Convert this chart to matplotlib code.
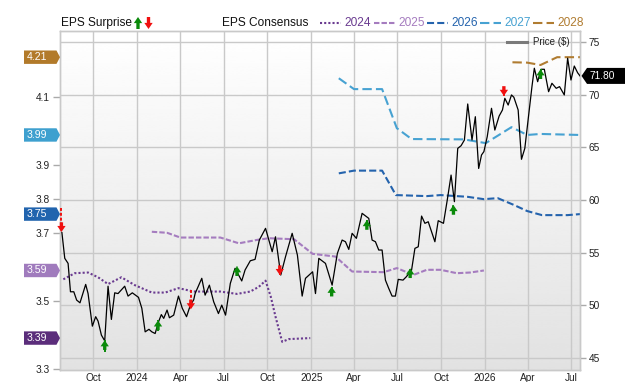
import numpy as np
import pandas as pd
import matplotlib
matplotlib.use("Agg")
import matplotlib.pyplot as plt
import matplotlib.dates as mdates
import matplotlib.transforms as mtransforms
from matplotlib.patches import Polygon
from matplotlib.lines import Line2D

plt.rcParams['font.family'] = ['Liberation Sans', 'DejaVu Sans']

# weekly-ish closing price ($)
price_dates = [
    "2023-07-27", "2023-08-02", "2023-08-09", "2023-08-14", "2023-08-21", "2023-08-27", "2023-09-03", "2023-09-15", "2023-09-20", "2023-09-29",
    "2023-10-06", "2023-10-11", "2023-10-18", "2023-10-25", "2023-11-01", "2023-11-08", "2023-11-15", "2023-11-22", "2023-12-06", "2023-12-13",
    "2023-12-22", "2024-01-04", "2024-01-11", "2024-01-18", "2024-01-26", "2024-02-01", "2024-02-08", "2024-02-15", "2024-02-21", "2024-02-26",
    "2024-03-04", "2024-03-09", "2024-03-18", "2024-03-28", "2024-04-05", "2024-04-14", "2024-04-22", "2024-04-29", "2024-05-02", "2024-05-16",
    "2024-05-23", "2024-06-01", "2024-06-10", "2024-06-20", "2024-06-27", "2024-07-05", "2024-07-15", "2024-07-25", "2024-08-08", "2024-08-15",
    "2024-08-26", "2024-09-05", "2024-09-14", "2024-09-27", "2024-10-04", "2024-10-11", "2024-10-18", "2024-10-29", "2024-11-08", "2024-11-22",
    "2024-12-03", "2024-12-13", "2024-12-20", "2025-01-04", "2025-01-10", "2025-01-17", "2025-01-31", "2025-02-14", "2025-02-25", "2025-03-07",
    "2025-03-14", "2025-03-21", "2025-03-28", "2025-04-06", "2025-04-18", "2025-05-02", "2025-05-09", "2025-05-16", "2025-05-23", "2025-05-30",
    "2025-06-06", "2025-06-13", "2025-06-20", "2025-06-27", "2025-07-03", "2025-07-13", "2025-07-20", "2025-07-31", "2025-08-07", "2025-08-14",
    "2025-08-21", "2025-08-28", "2025-09-04", "2025-09-18", "2025-09-25", "2025-10-06", "2025-10-14", "2025-10-22", "2025-10-29", "2025-11-05",
    "2025-11-12", "2025-11-19", "2025-11-26", "2025-12-05", "2025-12-12", "2025-12-19", "2025-12-25", "2025-12-30", "2026-01-06", "2026-01-15",
    "2026-01-22", "2026-01-31", "2026-02-07", "2026-02-12", "2026-02-19", "2026-02-26", "2026-03-03", "2026-03-12", "2026-03-19", "2026-03-26",
    "2026-04-03", "2026-04-10", "2026-04-15", "2026-04-22", "2026-04-29", "2026-05-06", "2026-05-15", "2026-05-22", "2026-05-31", "2026-06-07",
    "2026-06-17", "2026-06-24", "2026-07-01", "2026-07-08", "2026-07-15", "2026-07-20",
]
price_values = [
    56.9, 54.45, 53.97, 51.27, 51.27, 50.48, 50.22, 51.97, 51.1, 48.0,
    48.9, 48.48, 47.15, 46.6, 51.8, 48.64, 51.17, 51.1, 51.8, 50.86,
    51.17, 50.74, 49.7, 47.46, 47.7, 47.46, 47.3, 48.4, 49.1, 48.74,
    49.53, 48.8, 49.05, 50.86, 49.7, 48.9, 50.0, 50.5, 51.1, 52.55,
    50.95, 51.9, 50.32, 49.2, 50.0, 49.05, 52.07, 53.5, 52.3, 53.34,
    54.22, 54.35, 56.19, 57.3, 56.19, 55.08, 56.5, 52.86, 54.6, 56.83,
    54.76, 50.86, 52.55, 53.17, 51.1, 54.45, 53.97, 51.9, 54.92, 56.19,
    56.03, 55.3, 56.83, 56.35, 58.73, 58.25, 56.19, 56.03, 55.24, 55.24,
    52.38, 51.59, 50.86, 50.86, 52.45, 52.38, 52.7, 53.34, 55.4, 55.55,
    58.47, 57.78, 57.93, 56.03, 58.03, 57.78, 60.0, 62.37, 59.84, 64.91,
    65.16, 65.7, 69.13, 65.7, 67.92, 63.0, 64.28, 64.6, 66.02, 68.72,
    66.65, 67.98, 68.56, 69.67, 69.03, 69.99, 69.77, 68.56, 63.87, 64.91,
    68.08, 70.78, 72.53, 71.25, 72.43, 72.43, 70.3, 71.1, 70.62, 70.78,
    69.99, 73.48, 71.41, 72.74, 72.1, 71.8,
]
last_price = "71.80"

# EPS consensus per fiscal year
eps_2024_dates = ["2023-07-30", "2023-08-23", "2023-09-20", "2023-10-11", "2023-11-01", "2023-11-29", "2023-12-27", "2024-02-01",
                  "2024-02-29", "2024-03-28", "2024-04-29", "2024-06-24", "2024-07-29", "2024-08-26", "2024-09-13", "2024-09-27",
                  "2024-10-08", "2024-10-18", "2024-11-01", "2024-11-15", "2024-12-30"]
eps_2024_values = [3.563, 3.581, 3.583, 3.569, 3.549, 3.569, 3.546, 3.524,
                   3.524, 3.537, 3.527, 3.527, 3.52, 3.527, 3.541, 3.559,
                   3.512, 3.453, 3.379, 3.387, 3.39]

eps_2025_dates = ["2024-02-01", "2024-03-04", "2024-04-01", "2024-06-24", "2024-08-02", "2024-09-09", "2024-10-04", "2024-11-26",
                  "2025-01-04", "2025-02-21", "2025-03-28", "2025-06-02", "2025-06-30", "2025-08-04", "2025-09-01", "2025-09-30",
                  "2025-11-03", "2025-12-01", "2025-12-30"]
eps_2025_values = [3.703, 3.70, 3.686, 3.686, 3.669, 3.679, 3.684, 3.681,
                   3.638, 3.63, 3.586, 3.584, 3.596, 3.576, 3.591, 3.591,
                   3.581, 3.583, 3.589]

eps_2026_dates = ["2025-02-28", "2025-04-01", "2025-05-30", "2025-06-28", "2025-09-01", "2025-09-30", "2025-11-25", "2025-12-30",
                  "2026-01-28", "2026-03-03", "2026-03-31", "2026-05-01", "2026-06-24", "2026-07-20"]
eps_2026_values = [3.875, 3.883, 3.883, 3.811, 3.808, 3.811, 3.806, 3.799,
                   3.802, 3.782, 3.764, 3.752, 3.752, 3.755]

eps_2027_dates = ["2025-02-28", "2025-04-01", "2025-05-30", "2025-06-30", "2025-07-31", "2025-11-18", "2026-01-03", "2026-02-26",
                  "2026-03-31", "2026-04-28", "2026-07-20"]
eps_2027_values = [4.155, 4.123, 4.123, 4.008, 3.976, 3.975, 3.964, 4.011,
                   3.988, 3.991, 3.988]

eps_2028_dates = ["2026-02-28", "2026-03-31", "2026-04-28", "2026-06-02", "2026-07-20"]
eps_2028_values = [4.202, 4.201, 4.194, 4.217, 4.217]

eps_years = ["2024", "2025", "2026", "2027", "2028"]
eps_labels = ["3.39", "3.59", "3.75", "3.99", "4.21"]
eps_colors = ["#6a3b90", "#a57cbf", "#2463ad", "#47a2d2", "#b07c31"]
tag_colors = ["#5b2d7b", "#a07bbd", "#2164ae", "#3ea0cf", "#b27a2a"]
eps_dashes = [(1, 1), (2.6, 1.0), (3.4, 1.5), (4.5, 2.0), (4.5, 2.0)]

# EPS surprise arrows, drawn on the price scale: tail -> tip
surprise_dates = ["2023-07-26", "2023-10-25", "2024-02-14", "2024-04-23", "2024-07-29", "2024-10-27",
                  "2025-02-13", "2025-04-28", "2025-07-28", "2025-10-27", "2026-02-10", "2026-04-28"]
surprise_tail = [59.23, 45.52, 47.5, 51.43, 52.8, 53.5, 51.05, 57.4, 52.7, 58.73, 70.53, 71.8]
surprise_tip = [56.95, 46.66, 48.55, 49.6, 53.7, 52.86, 51.75, 58.09, 53.5, 59.52, 69.9, 72.43]

GREEN = "#0a8a0a"
RED = "#f01010"

W, H = 640, 382
fig = plt.figure(figsize=(W / 100, H / 100), dpi=100)
ax = fig.add_axes([60 / W, 1 - 370 / H, 520 / W, 339.3 / H])
ax2 = ax.twinx()

x0, x1 = pd.Timestamp("2023-07-23"), pd.Timestamp("2026-07-20")
ax.set_xlim(x0, x1)
ax.set_ylim(3.296, 4.295)
ax2.set_ylim(43.83, 76.10)

# background gradient
grad = np.linspace(1.0, 0.885, 256).reshape(-1, 1)
ax.imshow(grad, cmap="gray", vmin=0, vmax=1, extent=[0, 1, 0, 1], transform=ax.transAxes,
          aspect="auto", zorder=0, interpolation="bicubic")

grid_c = "#c9c9c9"
# vertical grid on quarter starts
ax.xaxis.set_major_locator(mdates.MonthLocator(bymonth=[1, 4, 7, 10]))
ax.xaxis.set_major_formatter(plt.FuncFormatter(
    lambda v, p: str(mdates.num2date(v).year) if mdates.num2date(v).month == 1 else mdates.num2date(v).strftime("%b")))
ax.grid(axis="x", color=grid_c, lw=1.0, zorder=1)

# horizontal grid at price ticks (drawn under the lines)
price_ticks = [45, 50, 55, 60, 65, 70, 75]
hgrid = mtransforms.blended_transform_factory(ax.transAxes, ax2.transData)
for p in price_ticks:
    ax.plot([0, 1], [p, p], transform=hgrid, color=grid_c, lw=1.0, zorder=1)

# EPS consensus lines
eps_dates = [eps_2024_dates, eps_2025_dates, eps_2026_dates, eps_2027_dates, eps_2028_dates]
eps_vals = [eps_2024_values, eps_2025_values, eps_2026_values, eps_2027_values, eps_2028_values]
for d, v, c, ds in zip(eps_dates, eps_vals, eps_colors, eps_dashes):
    ax.plot(pd.to_datetime(d), v, color=c, lw=1.5, dashes=ds, zorder=3)

# price line
ax2.plot(pd.to_datetime(price_dates), price_values, color="black", lw=0.9, zorder=4)

# surprise arrows
for d, t0, t1 in zip(pd.to_datetime(surprise_dates), surprise_tail, surprise_tip):
    up = t1 > t0
    c = GREEN if up else RED
    ax2.plot([d, d], [t0, t1], color=c, lw=1.4, dashes=(1.5, 1), zorder=5, clip_on=False)
    ax2.annotate("", xy=(d, t1), xytext=(0, -7 if up else 7), textcoords="offset points",
                 arrowprops=dict(arrowstyle="simple,head_length=0.55,head_width=0.75,tail_width=0.3",
                                 color=c, lw=0, shrinkA=0, shrinkB=0, mutation_scale=8),
                 zorder=6, annotation_clip=False)

# axes styling
for a in (ax, ax2):
    for s in a.spines.values():
        s.set_color(grid_c)
        s.set_linewidth(1.0)
ax.set_yticks([3.3, 3.5, 3.7, 3.8, 3.9, 4.1])
ax.set_yticklabels(["3.3", "3.5", "3.7", "3.8", "3.9", "4.1"])
ax.tick_params(axis="y", length=4.8, width=1, color="#aaaaaa", pad=2.5, labelsize=7.3, labelcolor="#222222")
ax.tick_params(axis="x", length=0, pad=2.0, labelsize=7.3, labelcolor="#222222")
ax2.set_yticks(price_ticks)
ax2.tick_params(axis="y", length=4.5, width=1, color="#aaaaaa", pad=1.5, labelsize=7.3, labelcolor="#222222")

fig.canvas.draw()


def px(x, y_top):
    return (x, H - y_top)


# left tags with latest EPS consensus
for lab, c, vals in zip(eps_labels, tag_colors, eps_vals):
    yd = ax.transData.transform((mdates.date2num(x0), vals[-1]))[1]
    pts = [(24, yd - 6.7), (56.5, yd - 6.7), (60, yd), (56.5, yd + 6.7), (24, yd + 6.7)]
    fig.patches.append(Polygon(pts, closed=True, facecolor=c, edgecolor="none",
                               transform=mtransforms.IdentityTransform(), figure=fig))
    fig.text(27 / W, yd / H, lab, color="white", fontsize=7.6, ha="left", va="center")

# last price tag
yd = ax2.transData.transform((mdates.date2num(x1), price_values[-1]))[1]
pts = [(581.5, yd), (587, yd + 8), (625, yd + 8), (625, yd - 8), (587, yd - 8)]
fig.patches.append(Polygon(pts, closed=True, facecolor="black", edgecolor="none",
                           transform=mtransforms.IdentityTransform(), figure=fig))
fig.text(590 / W, yd / H, last_price, color="white", fontsize=7.3, ha="left", va="center")

# price legend inside plot
ly = H - 42
fig.lines.append(Line2D([507 / W, 527 / W], [ly / H, ly / H], color="#7a7a7a", lw=2.2, transform=fig.transFigure))
fig.text(533 / W, ly / H, "Price ($)", fontsize=7.0, color="#222222", ha="left", va="center")

# top legend
ty = (H - 23.3) / H
fig.text(60.7 / W, ty, "EPS Surprise", fontsize=8.6, color="#111111", ha="left", va="center")
for xa, up, c in [(138, True, GREEN), (148.5, False, RED)]:
    y_tip, y_tail = (H - 17, H - 29) if up else (H - 29, H - 17)
    ax.annotate("", xy=(xa, y_tip), xycoords="figure pixels", xytext=(xa, y_tail), textcoords="figure pixels",
                arrowprops=dict(arrowstyle="simple,head_length=0.55,head_width=0.75,tail_width=0.3",
                                color=c, lw=0, shrinkA=0, shrinkB=0, mutation_scale=8),
                annotation_clip=False)
fig.text(221.7 / W, ty, "EPS Consensus", fontsize=8.6, color="#111111", ha="left", va="center")
leg_x = [320, 374, 427, 480, 533]
for xl, yr, c, ds in zip(leg_x, eps_years, eps_colors, eps_dashes):
    fig.lines.append(Line2D([xl / W, (xl + 21) / W], [ty, ty], color=c, lw=1.5, dashes=ds, transform=fig.transFigure))
    fig.text((xl + 24) / W, ty, yr, fontsize=8.6, color=c, ha="left", va="center")

fig.savefig("out.png", dpi=100)
